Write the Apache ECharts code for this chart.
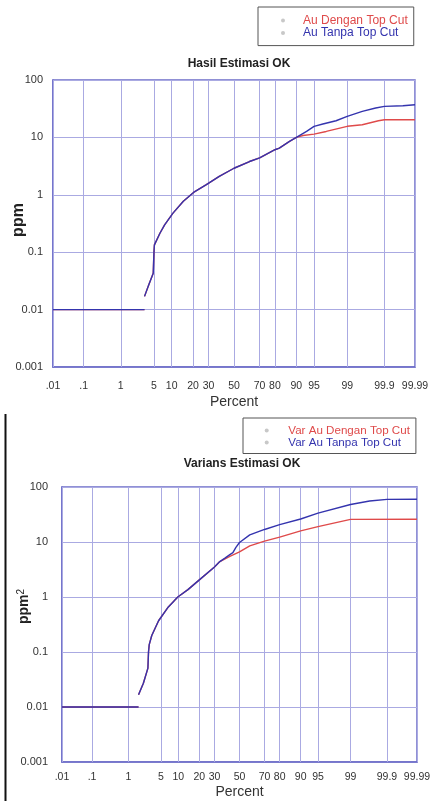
<!DOCTYPE html>
<html>
<head>
<meta charset="utf-8">
<script src="https://cdn.jsdelivr.net/npm/echarts@6/dist/echarts.min.js"></script>
<style>
html,body{margin:0;padding:0;background:#fff;}
#chart{width:433px;height:801px;}
</style>
</head>
<body>
<div id="chart"></div>
<script>
// ---- axis ticks ----
const xTickPct = [0.01, 0.1, 1, 5, 10, 20, 30, 50, 70, 80, 90, 95, 99, 99.9, 99.99];
const xTickLabels = ['.01', '.1', '1', '5', '10', '20', '30', '50', '70', '80', '90', '95', '99', '99.9', '99.99'];
const yTickLabels = ['0.001', '0.01', '0.1', '1', '10', '100'];

// ---- Chart 1: Hasil Estimasi OK (ppm) ----
const floor1Pct = [0.01, 3.3];
const floor1Val = [0.01, 0.01];
const dengan1Pct = [3.3, 4.0, 4.85, 5.0, 5.1, 6.4, 7.7, 10.5, 14.9, 20.3, 28.5, 38.1, 50, 62.5, 70.1, 80, 82.4, 87.3, 90, 92.2, 95, 97.1, 99, 99.58, 99.85, 99.9, 99.99];
const dengan1Val = [0.017, 0.027, 0.043, 0.1, 0.134, 0.214, 0.3, 0.48, 0.77, 1.1, 1.5, 2.09, 2.9, 3.8, 4.4, 6.1, 6.5, 8.5, 10, 10.8, 11.4, 12.7, 15.6, 16.6, 19.5, 20.3, 20.3];
const tanpa1Pct = [3.3, 4.0, 4.85, 5.0, 5.1, 6.4, 7.7, 10.5, 14.9, 20.3, 28.5, 38.1, 50, 62.5, 70.1, 80, 82.4, 87.3, 90, 93.2, 95, 96.6, 98.2, 99, 99.58, 99.82, 99.9, 99.974, 99.99];
const tanpa1Val = [0.017, 0.027, 0.043, 0.1, 0.134, 0.214, 0.3, 0.48, 0.77, 1.1, 1.5, 2.09, 2.9, 3.8, 4.4, 6.1, 6.5, 8.5, 10, 12.7, 15.6, 17.1, 19.5, 23.2, 28.4, 32.5, 34.7, 35.6, 37];

// ---- Chart 2: Varians Estimasi OK (ppm^2) ----
const floor2Pct = [0.01, 1.72];
const floor2Val = [0.01, 0.01];
const dengan2Pct = [1.72, 2.2, 2.75, 2.83, 2.93, 3.3, 4.5, 6.8, 9.8, 14, 20, 30, 34, 42, 50, 58.5, 70, 80, 90, 95, 99, 99.99];
const dengan2Val = [0.0167, 0.027, 0.051, 0.1, 0.136, 0.2, 0.37, 0.66, 1.0, 1.36, 2.05, 3.5, 4.4, 5.5, 6.6, 8.5, 10.4, 12.3, 15.9, 19, 25.8, 26];
const tanpa2Pct = [1.72, 2.2, 2.75, 2.83, 2.93, 3.3, 4.5, 6.8, 9.8, 14, 20, 30, 34, 38, 42, 44.5, 47, 50, 58.5, 70, 80, 90, 95, 99, 99.68, 99.9, 99.99];
const tanpa2Val = [0.0167, 0.027, 0.051, 0.1, 0.136, 0.2, 0.37, 0.66, 1.0, 1.36, 2.05, 3.5, 4.4, 5.1, 5.9, 6.4, 8, 9.8, 13.5, 16.9, 20.7, 26.2, 33.5, 48, 55.6, 59.5, 60];

// inverse standard normal CDF (probability-scale transform for the x axis)
function probit(p) {
  const a = [-3.969683028665376e+01, 2.209460984245205e+02, -2.759285104469687e+02, 1.383577518672690e+02, -3.066479806614716e+01, 2.506628277459239e+00];
  const b = [-5.447609879822406e+01, 1.615858368580409e+02, -1.556989798598866e+02, 6.680131188771972e+01, -1.328068155288572e+01];
  const c = [-7.784894002430293e-03, -3.223964580411365e-01, -2.400758277161838e+00, -2.549671680829994e+00, 4.374664141464968e+00, 2.938163982698783e+00];
  const d = [7.784695709041462e-03, 3.224671290700398e-01, 2.445134137142996e+00, 3.754408661907416e+00];
  const pl = 0.02425, ph = 1 - pl;
  let q, r;
  if (p < pl) {
    q = Math.sqrt(-2 * Math.log(p));
    return (((((c[0]*q+c[1])*q+c[2])*q+c[3])*q+c[4])*q+c[5]) / ((((d[0]*q+d[1])*q+d[2])*q+d[3])*q+1);
  }
  if (p <= ph) {
    q = p - 0.5; r = q * q;
    return (((((a[0]*r+a[1])*r+a[2])*r+a[3])*r+a[4])*r+a[5])*q / (((((b[0]*r+b[1])*r+b[2])*r+b[3])*r+b[4])*r+1);
  }
  q = Math.sqrt(-2 * Math.log(1 - p));
  return -(((((c[0]*q+c[1])*q+c[2])*q+c[3])*q+c[4])*q+c[5]) / ((((d[0]*q+d[1])*q+d[2])*q+d[3])*q+1);
}
const z = p => probit(p / 100);
const xTickZ = xTickPct.map(z);
const xMin = xTickZ[0], xMax = xTickZ[xTickZ.length - 1];

function build(fp, fv, pct, val) {
  const out = fp.map((p, i) => [z(p), fv[i]]);
  out.push([z(fp[fp.length - 1]), '-']);
  pct.forEach((p, i) => out.push([z(p), val[i]]));
  return out;
}

const FONT = 'Liberation Sans, Arial, sans-serif';
const GRIDC = '#aaaae2';
const BORDERC = '#6c6cc8';
const RED = '#df4a4a';
const BLUE = '#3434ae';
const TXT = '#333';

function xLabelFmt(v) {
  let best = 0, bd = Infinity;
  xTickZ.forEach((t, i) => { const dd = Math.abs(t - v); if (dd < bd) { bd = dd; best = i; } });
  return xTickLabels[best];
}
function yLabelFmt(v) {
  const e = Math.round(Math.log10(v));
  return yTickLabels[e + 3];
}

const grids = [
  { left: 53, top: 80, width: 362, height: 287 },
  { left: 62, top: 487, width: 355, height: 275 }
];

function makeX(i, margin, nameGap) {
  return {
    type: 'value', gridIndex: i, min: xMin, max: xMax,
    name: 'Percent', nameLocation: 'middle', nameGap: nameGap, nameMoveOverlap: false,
    nameTextStyle: { fontFamily: FONT, fontSize: 14, color: TXT },
    axisLine: { show: true, onZero: false, lineStyle: { color: BORDERC, width: 1.5 } },
    axisTick: { show: true, inside: true, length: grids[i].height, customValues: xTickZ, lineStyle: { color: GRIDC, width: 1 } },
    axisLabel: { customValues: xTickZ, formatter: xLabelFmt, margin: margin, fontFamily: FONT, fontSize: 10.5, color: TXT, hideOverlap: false },
    splitLine: { show: false }
  };
}
function makeY(i, name, nameGap, nameStyle, margin) {
  return {
    type: 'log', logBase: 10, gridIndex: i, min: 0.001, max: 100,
    name: name, nameLocation: 'middle', nameRotate: 90, nameGap: nameGap, nameMoveOverlap: false,
    nameTextStyle: nameStyle,
    axisLine: { show: true, onZero: false, lineStyle: { color: BORDERC, width: 1.5 } },
    axisTick: { show: false },
    axisLabel: { formatter: yLabelFmt, margin: margin, fontFamily: FONT, fontSize: 11, color: TXT },
    splitLine: { show: true, lineStyle: { color: GRIDC, width: 1 } },
    minorTick: { show: false }
  };
}

const option = {
  animation: false,
  backgroundColor: '#fff',
  title: [
    { text: 'Hasil Estimasi OK', left: 234, top: 53, textAlign: 'center',
      textStyle: { fontFamily: FONT, fontSize: 12, fontWeight: 'bold', color: '#222' } },
    { text: 'Varians Estimasi OK', left: 237, top: 453, textAlign: 'center',
      textStyle: { fontFamily: FONT, fontSize: 12, fontWeight: 'bold', color: '#222' } }
  ],
  legend: [
    { orient: 'vertical', left: 258, top: 7, padding: [7.5, 6, 6.5, 23], itemGap: 0.6,
      borderColor: '#555', borderWidth: 1, itemWidth: 4, itemHeight: 4, icon: 'circle',
      selectedMode: false,
      textStyle: { fontFamily: FONT, fontSize: 12, padding: [0, 0, 0, 13] },
      data: [
        { name: 'Au Dengan Top Cut', itemStyle: { color: '#c8c8c8' }, textStyle: { color: RED } },
        { name: 'Au Tanpa Top Cut', itemStyle: { color: '#c8c8c8' }, textStyle: { color: BLUE } }
      ] },
    { orient: 'vertical', left: 243, top: 418, padding: [6.5, 6, 5, 21.7], itemGap: 0,
      borderColor: '#555', borderWidth: 1, itemWidth: 4, itemHeight: 4, icon: 'circle',
      selectedMode: false,
      textStyle: { fontFamily: FONT, fontSize: 11.6, padding: [0, 0, 0, 14.6] },
      data: [
        { name: 'Var Au Dengan Top Cut', itemStyle: { color: '#c8c8c8' }, textStyle: { color: RED } },
        { name: 'Var Au Tanpa Top Cut', itemStyle: { color: '#c8c8c8' }, textStyle: { color: BLUE } }
      ] }
  ],
  grid: grids.map(g => Object.assign({ show: true, borderColor: BORDERC, borderWidth: 1.5, backgroundColor: '#fff',
    containLabel: false, outerBoundsMode: 'none' }, g)),
  xAxis: [ makeX(0, 14, 28), makeX(1, 10, 23) ],
  yAxis: [
    makeY(0, 'ppm', 26, { fontFamily: FONT, fontSize: 16, fontWeight: 'bold', color: '#222', padding: [0, 0, 0, 7] }, 10),
    makeY(1, '{a|ppm}{b|2}', 30, { fontFamily: FONT, color: '#222', padding: [0, 0, 0, 36],
      rich: { a: { fontFamily: FONT, fontSize: 14, fontWeight: 'bold', color: '#222', lineHeight: 16 },
              b: { fontFamily: FONT, fontSize: 10, color: '#222', verticalAlign: 'top' } } }, 14)
  ],
  series: [
    { name: 'Au Dengan Top Cut', type: 'line', xAxisIndex: 0, yAxisIndex: 0, showSymbol: false, symbol: 'none',
      connectNulls: false, color: RED, lineStyle: { color: RED, width: 1.4 }, data: build(floor1Pct, floor1Val, dengan1Pct, dengan1Val) },
    { name: 'Au Tanpa Top Cut', type: 'line', xAxisIndex: 0, yAxisIndex: 0, showSymbol: false, symbol: 'none',
      connectNulls: false, color: BLUE, lineStyle: { color: BLUE, width: 1.4 }, data: build(floor1Pct, floor1Val, tanpa1Pct, tanpa1Val) },
    { name: 'Var Au Dengan Top Cut', type: 'line', xAxisIndex: 1, yAxisIndex: 1, showSymbol: false, symbol: 'none',
      connectNulls: false, color: RED, lineStyle: { color: RED, width: 1.4 }, data: build(floor2Pct, floor2Val, dengan2Pct, dengan2Val) },
    { name: 'Var Au Tanpa Top Cut', type: 'line', xAxisIndex: 1, yAxisIndex: 1, showSymbol: false, symbol: 'none',
      connectNulls: false, color: BLUE, lineStyle: { color: BLUE, width: 1.4 }, data: build(floor2Pct, floor2Val, tanpa2Pct, tanpa2Val) }
  ],
  graphic: [
    { type: 'line', shape: { x1: 5.5, y1: 414, x2: 5.5, y2: 801 }, style: { stroke: '#111', lineWidth: 2 }, silent: true }
  ]
};

const chart = echarts.init(document.getElementById('chart'), null, { renderer: 'canvas' });
chart.setOption(option);
</script>
</body>
</html>
